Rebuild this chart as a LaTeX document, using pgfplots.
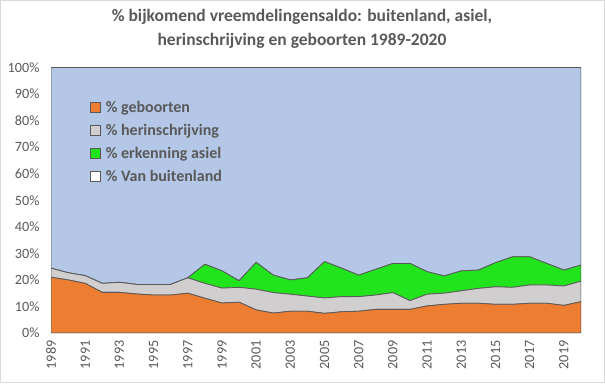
\documentclass[border=0pt]{standalone}
\usepackage{pgfplots}
\pgfplotsset{compat=1.18}
\usepackage{pgfplotstable}
\usepackage{fontspec}
\setmainfont{Carlito}
\definecolor{cblue}{HTML}{B4C7E7}
\definecolor{corange}{HTML}{ED7D31}
\definecolor{cgray}{HTML}{D0CECE}
\definecolor{cgreen}{HTML}{22E41C}
\definecolor{cline}{HTML}{595959}
\definecolor{ctext}{HTML}{595959}
\definecolor{cborder}{HTML}{D9D9D9}
\pgfplotstableread{
year geb her asiel buit
1989 21.0 3.4 0.0 75.6
1990 20.0 2.7 0.0 77.3
1991 18.7 2.9 0.0 78.4
1992 15.3 3.4 0.0 81.3
1993 15.3 3.8 0.0 80.9
1994 14.7 3.6 0.0 81.7
1995 14.3 4.0 0.0 81.7
1996 14.3 4.0 0.0 81.7
1997 15.0 5.8 0.0 79.2
1998 13.1 5.6 7.2 74.1
1999 11.3 5.6 6.5 76.6
2000 11.6 5.6 2.5 80.3
2001 8.7 7.8 10.1 73.4
2002 7.5 7.7 6.6 78.2
2003 8.2 6.4 5.4 80.0
2004 8.2 5.7 6.9 79.2
2005 7.4 5.8 13.7 73.1
2006 8.0 5.7 10.7 75.6
2007 8.2 5.5 8.1 78.2
2008 8.9 5.4 9.7 76.0
2009 8.9 6.3 11.0 73.8
2010 8.9 3.3 14.0 73.8
2011 10.2 4.4 8.5 76.9
2012 10.8 4.2 6.5 78.5
2013 11.2 4.7 7.5 76.6
2014 11.2 5.6 6.9 76.3
2015 10.8 6.6 9.1 73.5
2016 10.8 6.4 11.5 71.3
2017 11.2 6.9 10.6 71.3
2018 11.2 6.9 8.1 73.8
2019 10.4 7.3 6.0 76.3
2020 11.8 7.7 6.1 74.4
}\data
\begin{document}
\begin{tikzpicture}[x=1pt,y=1pt]
\path[use as bounding box] (0,0) rectangle (605,383);
\draw[cborder] (0.5,0.5) rectangle (604.5,382.5);
\node[font=\fontsize{17.5}{21}\selectfont\bfseries, text=ctext] at (302,366) {\% bijkomend vreemdelingensaldo: buitenland, asiel,};
\node[font=\fontsize{17.5}{21}\selectfont\bfseries, text=ctext] at (302,342) {herinschrijving en geboorten 1989-2020};
\begin{axis}[
  at={(51pt,50pt)}, anchor=south west,
  scale only axis, width=530pt, height=265.5pt,
  xmin=1989, xmax=2020, ymin=0, ymax=100,
  stack plots=y, area style,
  axis x line*=bottom, axis y line*=left,
  x axis line style={cborder, line width=0.8pt},
  y axis line style={draw=none},
  ytick={0,10,...,100},
  yticklabel={\pgfmathprintnumber{\tick}\%},
  tick style={draw=none},
  yticklabel shift=8pt,
  xtick={1989,...,2020},
  xticklabels={1989,,1991,,1993,,1995,,1997,,1999,,2001,,2003,,2005,,2007,,2009,,2011,,2013,,2015,,2017,,2019,},
  xticklabel shift=4pt,
  xticklabel style={rotate=90, anchor=east},
  tick label style={font=\fontsize{14.2}{16}\selectfont, text=ctext},
  /pgf/number format/assume math mode=true,
  /pgf/number format/1000 sep={},
  legend style={at={(0.068,0.89)}, anchor=north west, draw=none, fill=none,
    font=\fontsize{16}{18}\selectfont\bfseries, text=ctext, row sep=6.4pt,
    legend cell align=left},
  legend image code/.code={\draw[#1, draw=cline, line width=0.8pt] (0pt,-5pt) rectangle (10pt,5pt); \path (13pt,0pt);},
]
\addplot[fill=corange, draw=cline, line width=0.8pt, forget plot] table[x=year,y=geb]{\data} \closedcycle;
\addplot[fill=cgray, draw=cline, line width=0.8pt, forget plot] table[x=year,y=her]{\data} \closedcycle;
\addplot[fill=cgreen, draw=cline, line width=0.8pt, forget plot] table[x=year,y=asiel]{\data} \closedcycle;
\addplot[fill=cblue, draw=cline, line width=0.8pt, forget plot] table[x=year,y=buit]{\data} \closedcycle;
\addlegendimage{fill=corange}
\addlegendentry{\% geboorten}
\addlegendimage{fill=cgray}
\addlegendentry{\% herinschrijving}
\addlegendimage{fill=cgreen}
\addlegendentry{\% erkenning asiel}
\addlegendimage{fill=white}
\addlegendentry{\% Van buitenland}
\end{axis}
\end{tikzpicture}
\end{document}
